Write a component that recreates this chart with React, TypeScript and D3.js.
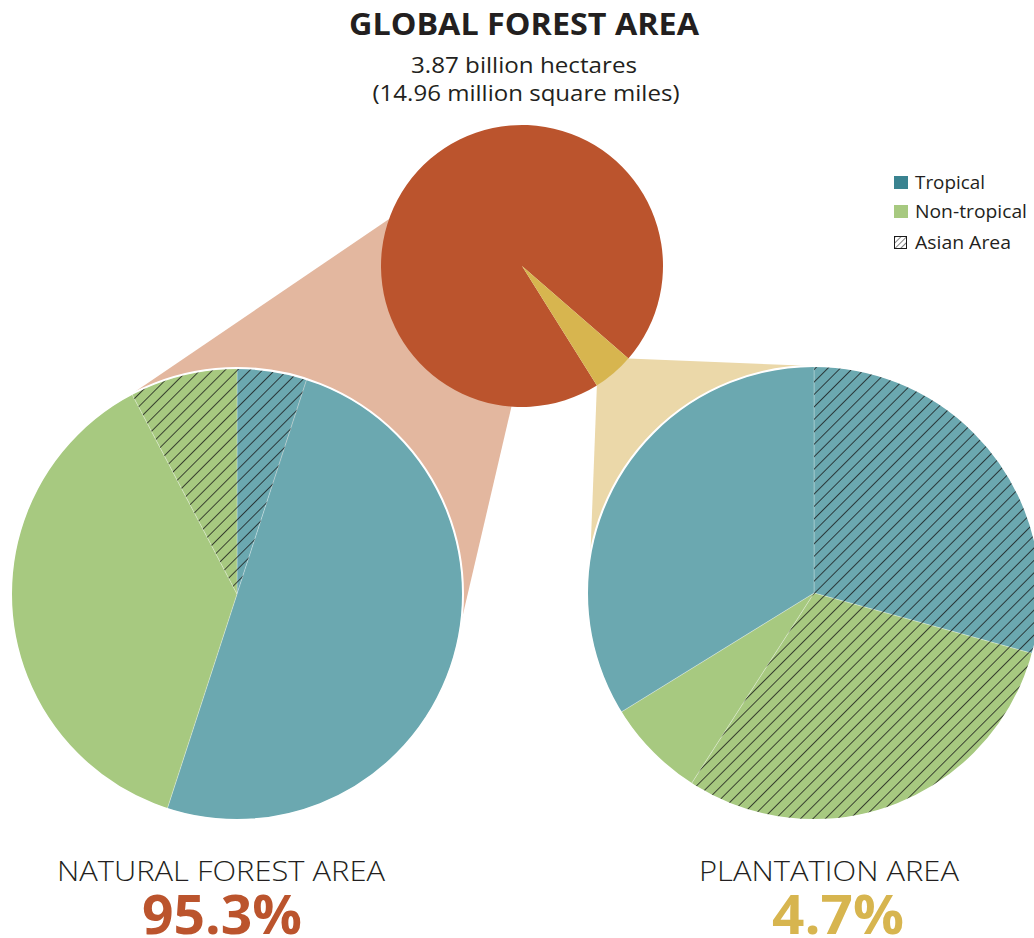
import React from "react";
import * as d3 from "d3";

// ---------- data ----------
const globalLabels = ["Natural forest", "Plantation"];
const globalValues = [95.3, 4.7];

// segments listed clockwise from 12 o'clock
const naturalTypes = ["Tropical", "Tropical", "Non-tropical", "Non-tropical"];
const naturalAsian = [true, false, false, true];
const naturalValues = [5.0, 50.0, 37.3, 7.7];

const plantationTypes = ["Tropical", "Non-tropical", "Non-tropical", "Tropical"];
const plantationAsian = [true, true, false, false];
const plantationValues = [29.3, 29.8, 7.1, 33.8];

const legendLabels = ["Tropical", "Non-tropical", "Asian Area"];

const titleText = "GLOBAL FOREST AREA";
const subtitleLines = ["3.87 billion hectares", "(14.96 million square miles)"];
const bottomLabels = ["NATURAL FOREST AREA", "PLANTATION AREA"];
const bottomValues = ["95.3%", "4.7%"];

// ---------- styles ----------
const COL = {
  natural: "#bb542d",
  plantation: "#d7b54f",
  naturalLink: "#e3b79f",
  plantLink: "#ebd8a9",
  Tropical: "#6ba8b0",
  "Non-tropical": "#a7c980",
  legendTropical: "#3a8390",
  text: "#231f20",
};
const FONT = "'Open Sans', 'Noto Sans', sans-serif";

const toRad = (deg: number) => (deg * Math.PI) / 180;

function SubPie({ cx, cy, r, types, asian, values }: any) {
  const pie = d3.pie<number>().sort(null).value((d) => d).startAngle(0).endAngle(2 * Math.PI);
  const arcs = pie(values);
  const arc = d3.arc<any>().innerRadius(0).outerRadius(r);
  return (
    <g transform={`translate(${cx},${cy})`}>
      {arcs.map((a, i) => (
        <path key={"f" + i} d={arc(a) as string} fill={(COL as any)[types[i]]} stroke="#ffffff" strokeOpacity={0.35} strokeWidth={0.8} />
      ))}
      {arcs.map((a, i) =>
        asian[i] ? <path key={"h" + i} d={arc(a) as string} fill="url(#hatch)" /> : null
      )}
      <circle r={r} fill="none" stroke="#ffffff" strokeWidth={2} />
    </g>
  );
}

export default function App() {
  const W = 1034;
  const H = 938;

  const top = { cx: 522, cy: 266, r: 141 };
  const left = { cx: 237, cy: 594, r: 226 };
  const right = { cx: 814, cy: 593, r: 227 };

  // global pie: plantation slice sits at ~131° (clockwise from top)
  const plantStart = 131;
  const total = d3.sum(globalValues);
  const plantSpan = (globalValues[1] / total) * 360;
  const gPie = d3
    .pie<number>()
    .sort(null)
    .value((d) => d)
    .startAngle(toRad(plantStart + plantSpan))
    .endAngle(toRad(plantStart + plantSpan + 360));
  const gArcs = gPie(globalValues);
  const gArc = d3.arc<any>().innerRadius(0).outerRadius(top.r);

  const pt = (c: any, deg: number, rr?: number) => {
    const r = rr ?? c.r;
    return [c.cx + r * Math.sin(toRad(deg)), c.cy - r * Math.cos(toRad(deg))];
  };

  // connector polygons
  const lA = pt(left, 332);
  const lB = pt(left, 97);
  const natLink = [lA, [420, 198], [520, 370], lB];
  const pA = pt(top, plantStart);
  const pB = pt(top, plantStart + plantSpan);
  const plantLink = [pA, pt(right, 0), pt(right, 280), pB];
  const poly = (p: number[][]) => "M" + p.map((q) => q.join(",")).join("L") + "Z";

  const legX = 894;
  const legY = [176, 205, 236];

  return (
    <svg width={W} height={H} viewBox={`0 0 ${W} ${H}`} style={{ display: "block", position: "absolute", left: 0, top: 0 }}>
      <defs>
        <pattern id="hatch" patternUnits="userSpaceOnUse" width={8.8} height={8.8} patternTransform="rotate(45)">
          <line x1={0} y1={0} x2={0} y2={8.8} stroke="#151515" strokeWidth={1.5} />
        </pattern>
        <pattern id="hatchSmall" patternUnits="userSpaceOnUse" width={4} height={4} patternTransform="rotate(45)">
          <line x1={0} y1={0} x2={0} y2={4} stroke="#1a1a1a" strokeWidth={1.1} />
        </pattern>
      </defs>
      <rect width={W} height={H} fill="#ffffff" />

      {/* connectors */}
      <path d={poly(natLink)} fill={COL.naturalLink} />
      <path d={poly(plantLink)} fill={COL.plantLink} />

      {/* global pie */}
      <g transform={`translate(${top.cx},${top.cy})`}>
        {gArcs.map((a, i) => (
          <path key={i} d={gArc(a) as string} fill={i === 0 ? COL.natural : COL.plantation} />
        ))}
      </g>

      <SubPie {...left} types={naturalTypes} asian={naturalAsian} values={naturalValues} />
      <SubPie {...right} types={plantationTypes} asian={plantationAsian} values={plantationValues} />

      {/* title */}
      <text x={524} y={35} textAnchor="middle" fontFamily={FONT} fontWeight={700} fontSize={30} fill={COL.text} textLength={350} lengthAdjust="spacingAndGlyphs">
        {titleText}
      </text>
      <text x={524} y={73} textAnchor="middle" fontFamily={FONT} fontSize={22} fill={COL.text} textLength={226} lengthAdjust="spacingAndGlyphs">
        {subtitleLines[0]}
      </text>
      <text x={526} y={101} textAnchor="middle" fontFamily={FONT} fontSize={22} fill={COL.text} textLength={307} lengthAdjust="spacingAndGlyphs">
        {subtitleLines[1]}
      </text>

      {/* legend */}
      <rect x={legX} y={legY[0]} width={14} height={13} fill={COL.legendTropical} />
      <rect x={legX} y={legY[1]} width={14} height={13} fill={COL["Non-tropical"]} />
      <rect x={legX + 0.5} y={legY[2] + 0.5} width={12} height={12} fill="url(#hatchSmall)" stroke="#1a1a1a" strokeWidth={1} />
      {legendLabels.map((l, i) => (
        <text key={l} x={915} y={legY[i] + 13} fontFamily={FONT} fontSize={17.5} fill={COL.text}
          textLength={[70, 112, 96][i]} lengthAdjust="spacingAndGlyphs">
          {l}
        </text>
      ))}

      {/* bottom labels */}
      <text x={221} y={881} textAnchor="middle" fontFamily={FONT} fontWeight={300} fontSize={28} fill={COL.text} textLength={328} lengthAdjust="spacingAndGlyphs">
        {bottomLabels[0]}
      </text>
      <text x={829} y={881} textAnchor="middle" fontFamily={FONT} fontWeight={300} fontSize={28} fill={COL.text} textLength={260} lengthAdjust="spacingAndGlyphs">
        {bottomLabels[1]}
      </text>
      <text x={222} y={934} textAnchor="middle" fontFamily={FONT} fontWeight={700} fontSize={54} fill={COL.natural} textLength={160} lengthAdjust="spacingAndGlyphs">
        {bottomValues[0]}
      </text>
      <text x={838} y={934} textAnchor="middle" fontFamily={FONT} fontWeight={700} fontSize={54} fill={COL.plantation} textLength={132} lengthAdjust="spacingAndGlyphs">
        {bottomValues[1]}
      </text>
    </svg>
  );
}
